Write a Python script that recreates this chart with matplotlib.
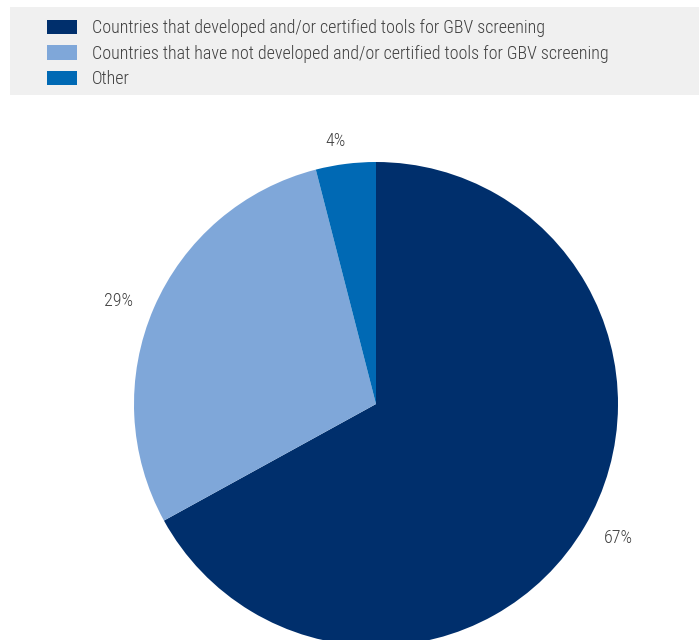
import numpy as np
import matplotlib
matplotlib.use("Agg")
import matplotlib.pyplot as plt
from matplotlib.patches import Patch, Rectangle

plt.rcParams['font.family'] = ['Roboto Condensed', 'DejaVu Sans']
plt.rcParams['font.weight'] = 'light'

# share of countries by GBV screening tool status
categories = [
    'Countries that developed and/or certified tools for GBV screening',
    'Countries that have not developed and/or certified tools for GBV screening',
    'Other',
]
shares = [67, 29, 4]
colors = ['#002f6c', '#7fa7d9', '#0069b4']
label_dist = [1.145, 1.146, 1.098]
text_color = '#404040'

W, H = 699, 640
fig = plt.figure(figsize=(W / 100, H / 100), dpi=100)

# grey band behind the legend
fig.patches.append(Rectangle((10 / W, 1 - 95 / H), (W - 10) / W, 88 / H,
                             transform=fig.transFigure, facecolor='#f0f0f0',
                             edgecolor='none', zorder=0))

# pie centred at (376, 404) px with radius 242 px
cx, cy, r = 376, 404, 242
ax = fig.add_axes([(cx - r) / W, (H - cy - r) / H, 2 * r / W, 2 * r / H])
wedges, _ = ax.pie(shares, colors=colors, startangle=90, counterclock=False,
                   wedgeprops=dict(linewidth=0))
for w in wedges:
    w.set_clip_on(False)
ax.set_xlim(-1, 1)
ax.set_ylim(-1, 1)
ax.axis('off')

# percentage labels sit just outside each slice, nudged a little anticlockwise
for w, val, d in zip(wedges, shares, label_dist):
    mid = np.deg2rad((w.theta1 + w.theta2) / 2 + 1.6)
    ax.text(d * np.cos(mid), d * np.sin(mid), f'{val}%', ha='center', va='center',
            fontsize=13, color=text_color)

handles = [Patch(facecolor=c, edgecolor='none') for c in colors]
fig.legend(handles, categories, loc='upper left', bbox_to_anchor=(47 / W, 1 - 19 / H),
           frameon=False, fontsize=13, labelcolor=text_color, handlelength=1.65,
           handleheight=0.85, handletextpad=0.85, labelspacing=0.42, borderaxespad=0,
           borderpad=0)

fig.savefig('out.png', dpi=100)
